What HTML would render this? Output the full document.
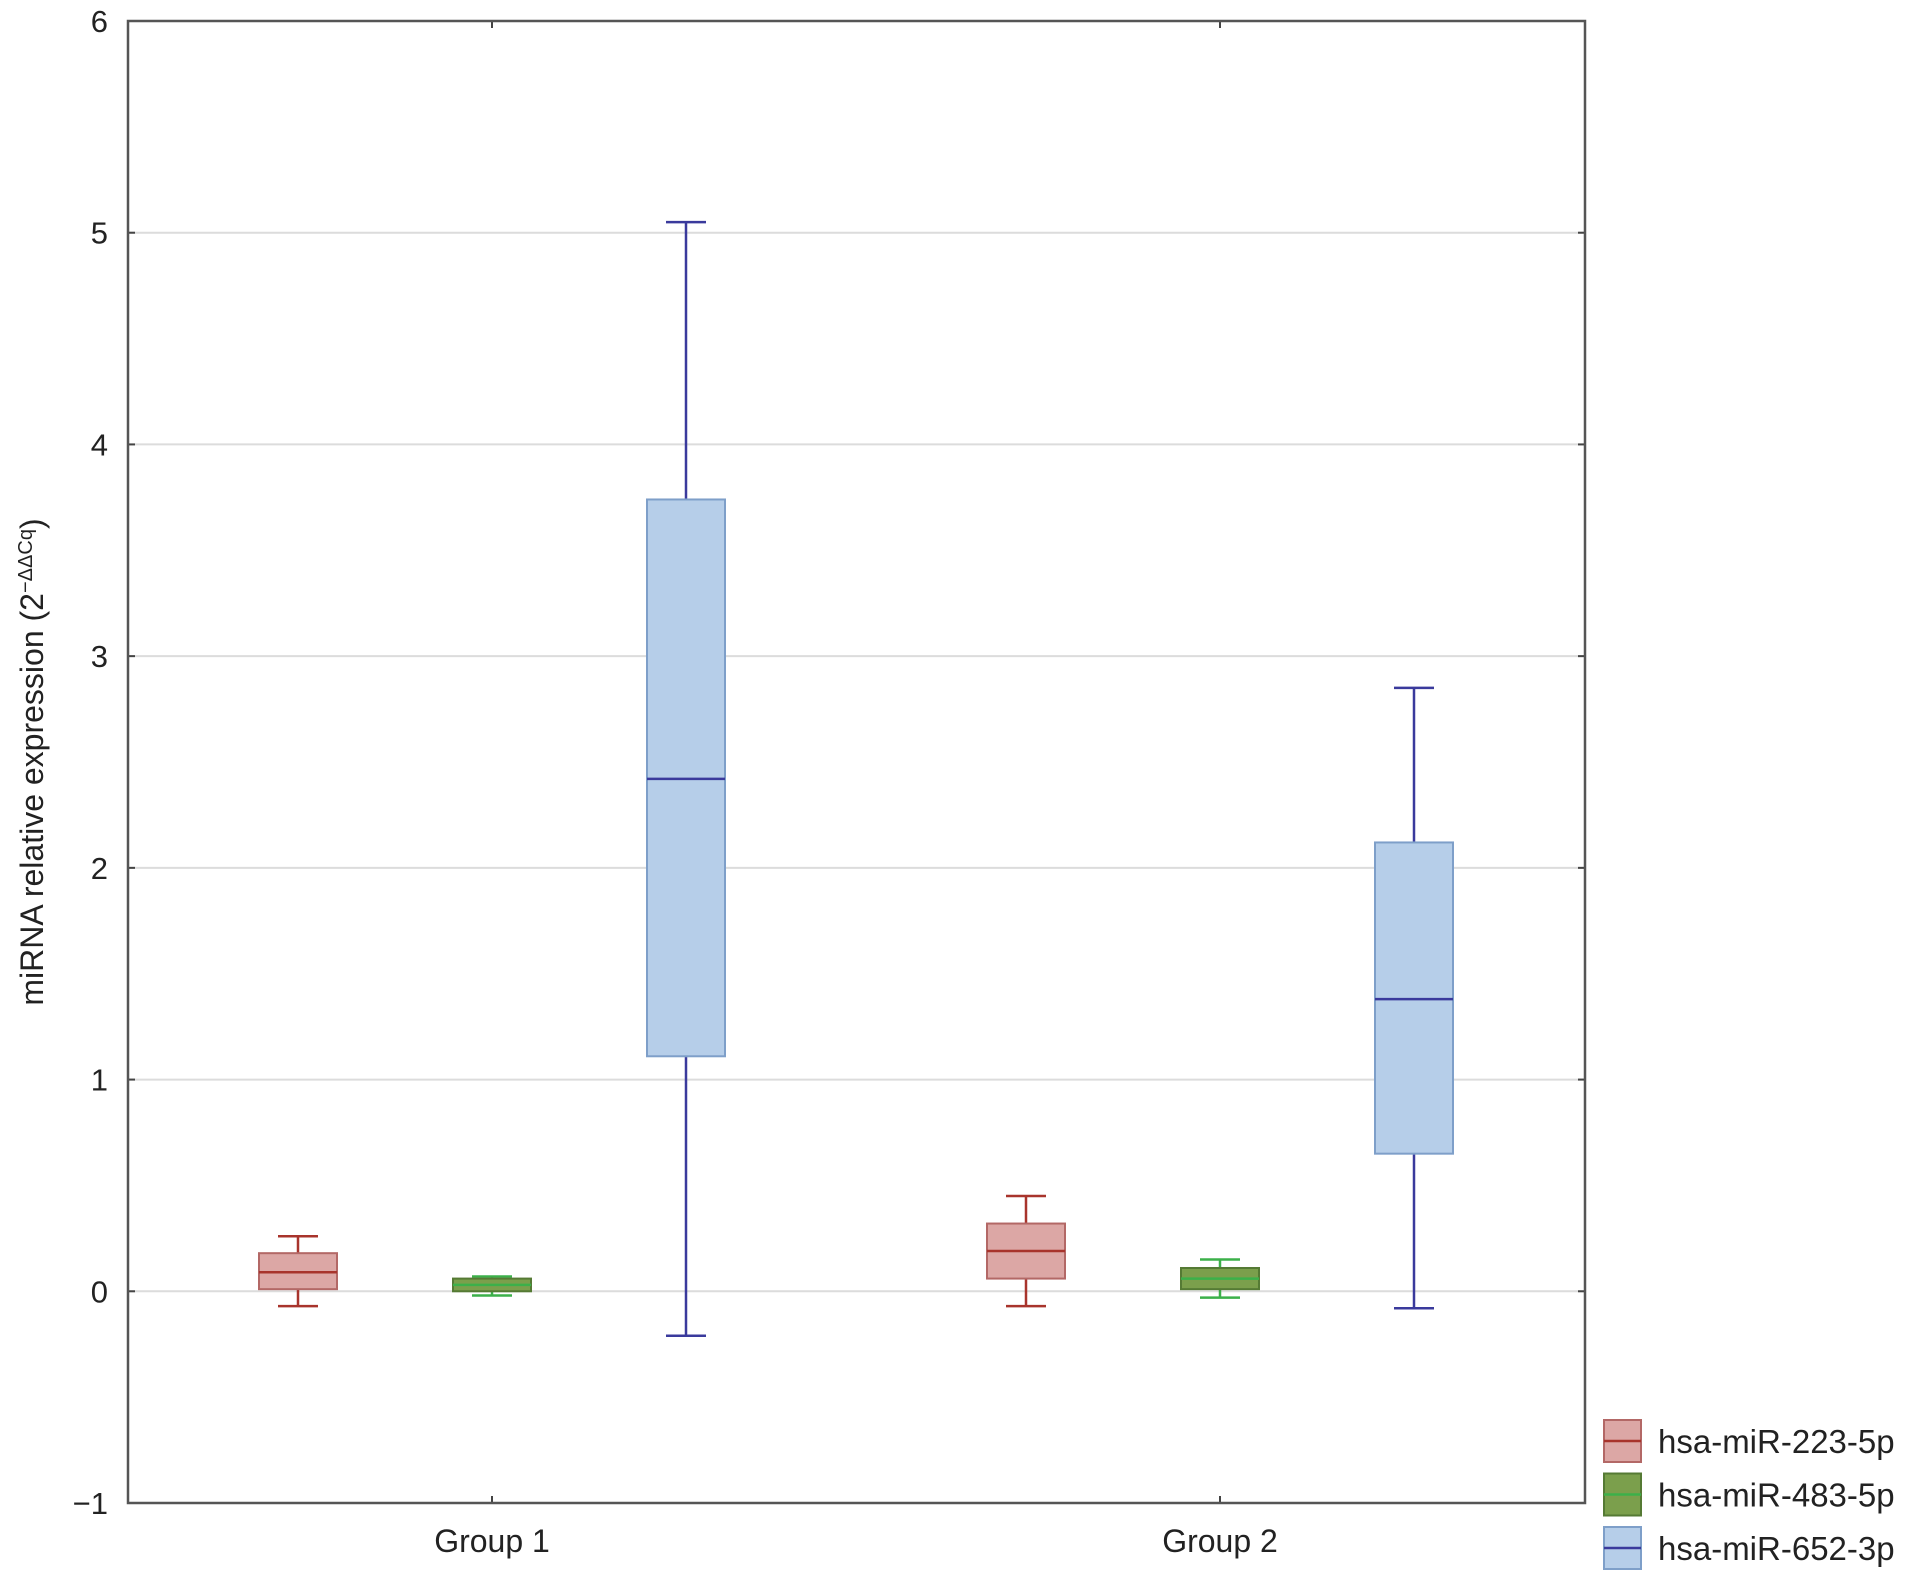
<!DOCTYPE html>
<html><head><meta charset="utf-8"><style>
html,body{margin:0;padding:0;background:#fff;}
svg{display:block;font-family:"Liberation Sans",Arial,sans-serif;}
</style></head><body>
<svg id="chart" width="1913" height="1584" viewBox="0 0 1913 1584">
<g id="grid"></g>
<g id="axes"></g>
<g id="boxes"></g>
<g id="legend"></g>
<text transform="translate(43,762) rotate(-90)" text-anchor="middle" font-size="32" fill="#222">miRNA relative expression (2<tspan baseline-shift="super" font-size="20">−ΔΔCq</tspan>)</text>
</svg>
<script>
const categories = ["Group 1", "Group 2"];
const seriesNames = ["hsa-miR-223-5p", "hsa-miR-483-5p", "hsa-miR-652-3p"];
const yTicks = [-1, 0, 1, 2, 3, 4, 5, 6];
const yTickLabels = ["−1", "0", "1", "2", "3", "4", "5", "6"];
// per series, per group: [whiskerLow, q1, median, q3, whiskerHigh]
const s223 = [[-0.07, 0.01, 0.09, 0.18, 0.26], [-0.07, 0.06, 0.19, 0.32, 0.45]];
const s483 = [[-0.02, 0.00, 0.03, 0.06, 0.07], [-0.03, 0.01, 0.06, 0.11, 0.15]];
const s652 = [[-0.21, 1.11, 2.42, 3.74, 5.05], [-0.08, 0.65, 1.38, 2.12, 2.85]];

const NS = "http://www.w3.org/2000/svg";
const L = 128, R = 1585, T = 21, B = 1503;
const yMin = -1, yMax = 6;
const y = v => B - (v - yMin) / (yMax - yMin) * (B - T);
const groupX = i => 492 + i * 728;
const seriesOffset = j => (j - 1) * 194;
const styles = [
  {fill:"#dca7a5", stroke:"#b36866", line:"#a8342c"},
  {fill:"#7b9f4c", stroke:"#557a34", line:"#3cb04a"},
  {fill:"#b6cee9", stroke:"#7e9fc9", line:"#3a3a9c"}
];
function mk(tag, attrs, parent){
  const e = document.createElementNS(NS, tag);
  for (const k in attrs) e.setAttribute(k, attrs[k]);
  parent.appendChild(e); return e;
}
const grid = document.getElementById('grid'), axes = document.getElementById('axes'),
      boxes = document.getElementById('boxes'), legend = document.getElementById('legend');
yTicks.forEach((v, i) => {
  if (v > yMin && v < yMax) {
    const g = mk('line', {x1:L, x2:R, y1:y(v), y2:y(v), stroke:"#dcdcdc", "stroke-width":2}, grid);
    
    
  }
  mk('line', {x1:L, x2:L+7, y1:y(v), y2:y(v), stroke:"#444", "stroke-width":2}, axes);
  mk('line', {x1:R-7, x2:R, y1:y(v), y2:y(v), stroke:"#444", "stroke-width":2}, axes);
  const t = mk('text', {x:108, y:y(v)+11, "text-anchor":"end", "font-size":31, fill:"#222"}, axes);
  t.textContent = yTickLabels[i];
  
  
});
categories.forEach((c, i) => {
  const x = groupX(i);
  mk('line', {x1:x, x2:x, y1:B, y2:B-7, stroke:"#444", "stroke-width":2}, axes);
  mk('line', {x1:x, x2:x, y1:T, y2:T+7, stroke:"#444", "stroke-width":2}, axes);
  const t = mk('text', {x:x, y:1552, "text-anchor":"middle", "font-size":32, fill:"#222"}, axes);
  t.textContent = c;
  
  
});
const frame = mk('rect', {x:L, y:T, width:R-L, height:B-T, fill:"none", stroke:"#555", "stroke-width":2.5}, axes);



[s223, s483, s652].forEach((ser, j) => {
  const st = styles[j];
  ser.forEach((d, i) => {
    const cx = groupX(i) + seriesOffset(j), w = 78, cw = 40;
    const g = mk('g', {}, boxes);
    
    
    mk('line', {x1:cx, x2:cx, y1:y(d[0]), y2:y(d[1]), stroke:st.line, "stroke-width":2.5}, g);
    mk('line', {x1:cx, x2:cx, y1:y(d[3]), y2:y(d[4]), stroke:st.line, "stroke-width":2.5}, g);
    mk('line', {x1:cx-cw/2, x2:cx+cw/2, y1:y(d[0]), y2:y(d[0]), stroke:st.line, "stroke-width":2.5}, g);
    mk('line', {x1:cx-cw/2, x2:cx+cw/2, y1:y(d[4]), y2:y(d[4]), stroke:st.line, "stroke-width":2.5}, g);
    mk('rect', {x:cx-w/2, y:y(d[3]), width:w, height:Math.max(1, y(d[1])-y(d[3])), fill:st.fill, stroke:st.stroke, "stroke-width":2}, g);
    mk('line', {x1:cx-w/2, x2:cx+w/2, y1:y(d[2]), y2:y(d[2]), stroke:st.line, "stroke-width":2.5}, g);
  });
});
seriesNames.forEach((n, j) => {
  const st = styles[j], top = 1420 + j * 53.5;
  const g = mk('g', {}, legend);
  
  
  mk('rect', {x:1604, y:top, width:37, height:42, fill:st.fill, stroke:st.stroke, "stroke-width":2}, g);
  mk('line', {x1:1604, x2:1641, y1:top+21, y2:top+21, stroke:st.line, "stroke-width":2.5}, g);
  const t = mk('text', {x:1658, y:top+33, "font-size":33, fill:"#222"}, g);
  t.textContent = n;
});
</script>
</body></html>
